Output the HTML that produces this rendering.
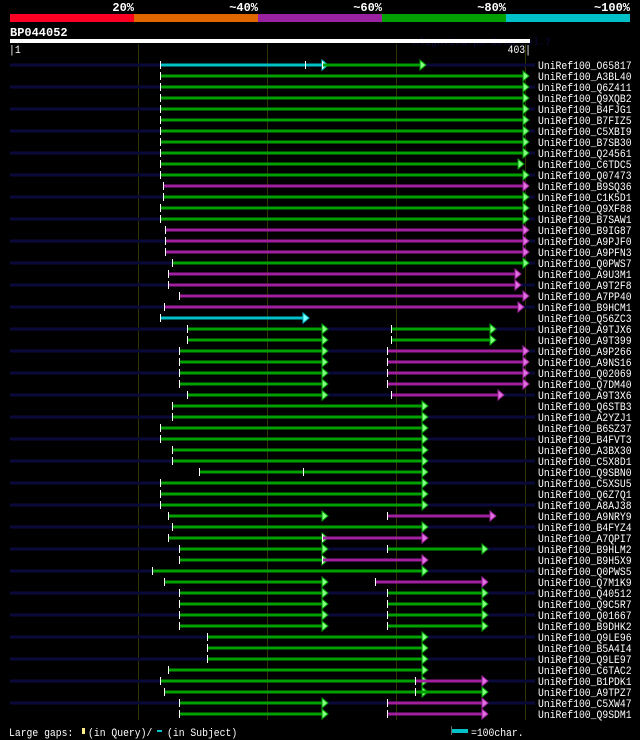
<!DOCTYPE html>
<html><head><meta charset="utf-8"><style>
html,body{margin:0;padding:0;background:#000;width:640px;height:740px;overflow:hidden}
svg{display:block}
text{font-family:"Liberation Mono","DejaVu Sans Mono",monospace;fill:#fff}
</style></head><body>
<svg id="s" width="640" height="740" xmlns="http://www.w3.org/2000/svg">
<rect x="10" y="14" width="124" height="8" fill="#ff0022"/>
<rect x="134" y="14" width="124" height="8" fill="#e06600"/>
<rect x="258" y="14" width="124" height="8" fill="#9a22a0"/>
<rect x="382" y="14" width="124" height="8" fill="#00a000"/>
<rect x="506" y="14" width="124" height="8" fill="#00c0c8"/>
<g font-size="12" font-weight="bold" text-anchor="end">
<text x="134" y="11">20%</text><text x="258" y="11">~40%</text><text x="382" y="11">~60%</text><text x="506" y="11">~80%</text><text x="630" y="11">~100%</text>
</g>
<text x="10" y="36" font-size="12" font-weight="bold">BP044052</text>
<text x="413" y="45" font-size="10" style="fill:#0a0a40">AlignView.pm Beta rel.7</text>
<rect x="10" y="39" width="520" height="4" fill="#fff"/>
<text class="n" x="9" y="53" font-size="11">|1</text>
<text class="n" x="531" y="53" font-size="11" text-anchor="end">403|</text>
<g stroke="#333300" stroke-width="1">
<line x1="138.5" y1="44" x2="138.5" y2="720"/><line x1="267.5" y1="44" x2="267.5" y2="720"/><line x1="396.5" y1="44" x2="396.5" y2="720"/><line x1="525.5" y1="44" x2="525.5" y2="720"/>
</g>
<g id="bars"></g>
<g font-size="11">
<text class="n" x="538" y="69">UniRef100_O65817</text><text class="n" x="538" y="80">UniRef100_A3BL40</text><text class="n" x="538" y="91">UniRef100_Q6Z411</text><text class="n" x="538" y="102">UniRef100_Q9XQB2</text><text class="n" x="538" y="113">UniRef100_B4FJG1</text><text class="n" x="538" y="124">UniRef100_B7FIZ5</text><text class="n" x="538" y="135">UniRef100_C5XBI9</text><text class="n" x="538" y="146">UniRef100_B7SB30</text><text class="n" x="538" y="157">UniRef100_Q24561</text><text class="n" x="538" y="168">UniRef100_C6TDC5</text><text class="n" x="538" y="179">UniRef100_Q07473</text><text class="n" x="538" y="190">UniRef100_B9SQ36</text><text class="n" x="538" y="201">UniRef100_C1K5D1</text><text class="n" x="538" y="212">UniRef100_Q9XF88</text><text class="n" x="538" y="223">UniRef100_B7SAW1</text><text class="n" x="538" y="234">UniRef100_B9IG87</text><text class="n" x="538" y="245">UniRef100_A9PJF0</text><text class="n" x="538" y="256">UniRef100_A9PFN3</text><text class="n" x="538" y="267">UniRef100_Q0PWS7</text><text class="n" x="538" y="278">UniRef100_A9U3M1</text><text class="n" x="538" y="289">UniRef100_A9T2F8</text><text class="n" x="538" y="300">UniRef100_A7PP40</text><text class="n" x="538" y="311">UniRef100_B9HCM1</text><text class="n" x="538" y="322">UniRef100_Q56ZC3</text><text class="n" x="538" y="333">UniRef100_A9TJX6</text><text class="n" x="538" y="344">UniRef100_A9T399</text><text class="n" x="538" y="355">UniRef100_A9P266</text><text class="n" x="538" y="366">UniRef100_A9NS16</text><text class="n" x="538" y="377">UniRef100_Q02069</text><text class="n" x="538" y="388">UniRef100_Q7DM40</text><text class="n" x="538" y="399">UniRef100_A9T3X6</text><text class="n" x="538" y="410">UniRef100_Q6STB3</text><text class="n" x="538" y="421">UniRef100_A2YZJ1</text><text class="n" x="538" y="432">UniRef100_B6SZ37</text><text class="n" x="538" y="443">UniRef100_B4FVT3</text><text class="n" x="538" y="454">UniRef100_A3BX30</text><text class="n" x="538" y="465">UniRef100_C5X8D1</text><text class="n" x="538" y="476">UniRef100_Q9SBN0</text><text class="n" x="538" y="487">UniRef100_C5XSU5</text><text class="n" x="538" y="498">UniRef100_Q6Z7Q1</text><text class="n" x="538" y="509">UniRef100_A8AJ38</text><text class="n" x="538" y="520">UniRef100_A9NRY9</text><text class="n" x="538" y="531">UniRef100_B4FYZ4</text><text class="n" x="538" y="542">UniRef100_A7QPI7</text><text class="n" x="538" y="553">UniRef100_B9HLM2</text><text class="n" x="538" y="564">UniRef100_B9H5X9</text><text class="n" x="538" y="575">UniRef100_Q0PWS5</text><text class="n" x="538" y="586">UniRef100_Q7M1K9</text><text class="n" x="538" y="597">UniRef100_Q40512</text><text class="n" x="538" y="608">UniRef100_Q9C5R7</text><text class="n" x="538" y="619">UniRef100_Q01667</text><text class="n" x="538" y="630">UniRef100_B9DHK2</text><text class="n" x="538" y="641">UniRef100_Q9LE96</text><text class="n" x="538" y="652">UniRef100_B5A4I4</text><text class="n" x="538" y="663">UniRef100_Q9LE97</text><text class="n" x="538" y="674">UniRef100_C6TAC2</text><text class="n" x="538" y="685">UniRef100_B1PDK1</text><text class="n" x="538" y="696">UniRef100_A9TPZ7</text><text class="n" x="538" y="707">UniRef100_C5XW47</text><text class="n" x="538" y="718">UniRef100_Q9SDM1</text>
</g>
<text class="n" x="9" y="736" font-size="11">Large gaps:</text>
<rect x="82" y="728" width="3" height="6" fill="#ffee88"/>
<text class="n" x="88" y="736" font-size="11">(in Query)/</text>
<rect x="157" y="730" width="5" height="2" fill="#00c0c8"/>
<text class="n" x="167" y="736" font-size="11">(in Subject)</text>
<rect x="451" y="726" width="1" height="9" fill="#666"/>
<rect x="452" y="729" width="16" height="4" fill="#00c0c8"/>
<text class="n" x="471" y="736" font-size="11">=100char.</text>
</svg>
<script>
var G='#00a000',P='#a020a0',C='#00c0c8';
var R=[
[[160,322,C,305],[322,420,G]],
[[160,523,G]],[[160,523,G]],[[160,523,G]],[[160,523,G]],[[160,523,G]],[[160,523,G]],[[160,523,G]],[[160,523,G]],
[[160,518,G]],[[160,523,G]],[[163,523,P]],[[163,523,G]],[[160,523,G]],[[160,523,G]],
[[165,523,P]],[[165,523,P]],[[165,523,P]],[[172,523,G]],[[168,515,P]],[[168,515,P]],[[179,523,P]],[[164,518,P]],
[[160,303,C]],
[[187,322,G],[391,490,G]],[[187,322,G],[391,490,G]],
[[179,322,G],[387,523,P]],[[179,322,G],[387,523,P]],[[179,322,G],[387,523,P]],[[179,322,G],[387,523,P]],
[[187,322,G],[391,498,P]],
[[172,422,G]],[[172,422,G]],[[160,422,G]],[[160,422,G]],[[172,422,G]],[[172,422,G]],[[199,422,G,303]],
[[160,422,G]],[[160,422,G]],[[160,422,G]],
[[168,322,G],[387,490,P]],[[172,422,G]],[[168,322,G],[322,422,P]],
[[179,322,G],[387,482,G]],[[179,322,G],[322,422,P]],[[152,422,G]],[[164,322,G],[375,482,P]],
[[179,322,G],[387,482,G]],[[179,322,G],[387,482,G]],[[179,322,G],[387,482,G]],[[179,322,G],[387,482,G]],
[[207,422,G]],[[207,422,G]],[[207,422,G]],[[168,422,G]],
[[160,422,G],[415,482,P]],[[164,422,G],[415,482,G]],
[[179,322,G],[387,482,P]],[[179,322,G],[387,482,P]]
];
var light={};light[G]='#80ff80';light[P]='#e070e0';light[C]='#80ffff';
var h='';
R.forEach(function(r,i){var y=65+11*i;
 if(i%2==0)h+='<rect x="10" y="'+(y-1.5)+'" width="525" height="3" fill="#0a0a3a"/>';
 r.forEach(function(s){
  h+='<rect x="'+s[0]+'" y="'+(y-1.5)+'" width="'+(s[1]-s[0])+'" height="3" fill="'+s[2]+'"/>';
  h+='<rect x="'+s[0]+'" y="'+(y-4)+'" width="1" height="8" fill="#fff"/>';
  if(s[3])h+='<rect x="'+s[3]+'" y="'+(y-4)+'" width="1" height="8" fill="#fff"/>';
  h+='<polygon points="'+s[1]+','+(y-5)+' '+(s[1]+6)+','+y+' '+s[1]+','+(y+5)+'" fill="'+light[s[2]]+'" stroke="'+s[2]+'" stroke-width="1"/>';
 });
});
document.getElementById('bars').innerHTML=h;
document.querySelectorAll('text.n').forEach(function(t){
 t.setAttribute('textLength',(t.textContent.length*5.85).toFixed(1));
 t.setAttribute('lengthAdjust','spacingAndGlyphs');
});
</script>
</body></html>
